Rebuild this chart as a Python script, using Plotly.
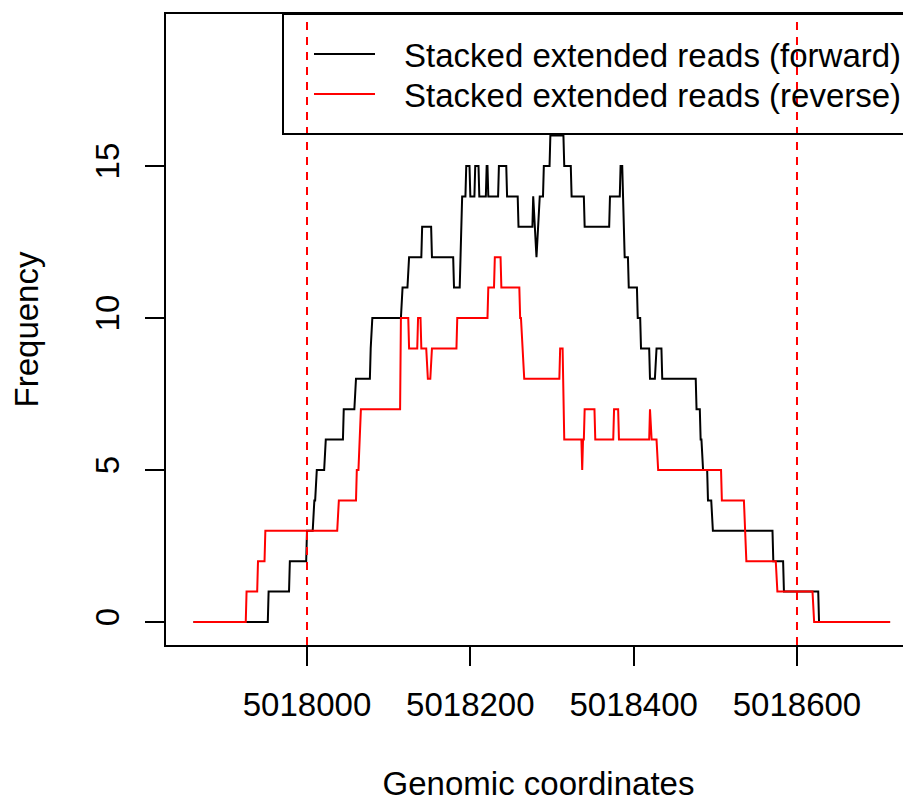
import plotly.graph_objects as go

# ---- data ----
fwd_pos = [5017861, 5017952, 5017953, 5017978, 5017979, 5017999, 5018000, 5018007, 5018009, 5018010,
           5018012, 5018021, 5018023, 5018044, 5018045, 5018058, 5018060, 5018077, 5018078, 5018080,
           5018115, 5018117, 5018123, 5018125, 5018140, 5018141, 5018152, 5018153, 5018179, 5018180,
           5018187, 5018190, 5018194, 5018195, 5018199, 5018200, 5018205, 5018206, 5018210, 5018211,
           5018219, 5018220, 5018221, 5018222, 5018234, 5018235, 5018244, 5018245, 5018258, 5018259,
           5018276, 5018277, 5018281, 5018285, 5018289, 5018290, 5018297, 5018298, 5018314, 5018315,
           5018323, 5018324, 5018339, 5018340, 5018370, 5018371, 5018383, 5018384, 5018386, 5018389,
           5018393, 5018394, 5018404, 5018405, 5018408, 5018409, 5018419, 5018420, 5018426, 5018428,
           5018434, 5018435, 5018476, 5018477, 5018481, 5018482, 5018483, 5018485, 5018490, 5018491,
           5018495, 5018497, 5018570, 5018571, 5018583, 5018584, 5018626, 5018627, 5018714]
fwd_freq = [0, 0, 1, 1, 2, 2, 3, 3, 4, 4,
            5, 5, 6, 6, 7, 7, 8, 8, 9, 10,
            10, 11, 11, 12, 12, 13, 13, 12, 12, 11,
            11, 14, 14, 15, 15, 14, 14, 15, 15, 14,
            14, 15, 15, 14, 14, 15, 15, 14, 14, 13,
            13, 14, 12, 14, 14, 15, 15, 16, 16, 15,
            15, 14, 14, 13, 13, 14, 14, 15, 15, 12,
            12, 11, 11, 10, 10, 9, 9, 8, 8, 9,
            9, 8, 8, 7, 7, 6, 6, 5, 5, 4,
            4, 3, 3, 2, 2, 1, 1, 0, 0]

rev_pos = [5017861, 5017925, 5017926, 5017939, 5017940, 5017948, 5017949, 5018037, 5018039, 5018060,
           5018061, 5018063, 5018066, 5018114, 5018115, 5018124, 5018125, 5018135, 5018136, 5018139,
           5018140, 5018146, 5018148, 5018151, 5018153, 5018183, 5018184, 5018221, 5018222, 5018229,
           5018230, 5018237, 5018238, 5018260, 5018261, 5018262, 5018266, 5018309, 5018310, 5018313,
           5018315, 5018336, 5018337, 5018338, 5018339, 5018340, 5018352, 5018353, 5018375, 5018376,
           5018381, 5018382, 5018419, 5018420, 5018422, 5018428, 5018430, 5018507, 5018508, 5018535,
           5018538, 5018574, 5018576, 5018619, 5018621, 5018714]
rev_freq = [0, 0, 1, 1, 2, 2, 3, 3, 4, 4,
            5, 5, 7, 7, 10, 10, 9, 9, 10, 10,
            9, 9, 8, 8, 9, 9, 10, 10, 11, 11,
            12, 12, 11, 11, 10, 10, 8, 8, 9, 9,
            6, 6, 5, 6, 6, 7, 7, 6, 6, 7,
            7, 6, 6, 7, 6, 6, 5, 5, 4, 4,
            2, 2, 1, 1, 0, 0]

boundaries = [5018000, 5018600]
x_ticks = [5018000, 5018200, 5018400, 5018600]
y_ticks = [0, 5, 10, 15]
series_names = ["Stacked extended reads (forward)", "Stacked extended reads (reverse)"]
series_colors = ["black", "red"]

FONT = "Liberation Sans, Arial, Helvetica, sans-serif"
FS = 33

# page offset of the plot div (browser body margin)
OFF = 8
FW, FH = 911 - OFF, 802 - OFF
L = 166 - OFF
T = 14 - OFF
B = FH - (645 - OFF)
H = FH - T - B
W = FW - L

fig = go.Figure()
fig.add_trace(go.Scatter(x=fwd_pos, y=fwd_freq, mode="lines", name=series_names[0],
                         line=dict(color=series_colors[0], width=2), showlegend=False))
fig.add_trace(go.Scatter(x=rev_pos, y=rev_freq, mode="lines", name=series_names[1],
                         line=dict(color=series_colors[1], width=2), showlegend=False))

for b in boundaries:
    fig.add_shape(type="line", xref="x", yref="paper", x0=b, x1=b, y0=0, y1=1,
                  line=dict(color="red", width=2, dash="8px,7px"), layer="above")


def px_x(p):
    return (p - OFF - L) / W


def px_y(p):
    return (645 - p) / H


# R-style legend (transparent, boxed, anchored top-right)
fig.add_shape(type="rect", xref="paper", yref="paper", x0=px_x(283), x1=px_x(930),
              y0=px_y(134), y1=1, line=dict(color="black", width=2), fillcolor="rgba(0,0,0,0)")
for i, (nm, col) in enumerate(zip(series_names, series_colors)):
    yy = px_y(54 + 40 * i)
    fig.add_shape(type="line", xref="paper", yref="paper", x0=px_x(314), x1=px_x(375),
                  y0=yy, y1=yy, line=dict(color=col, width=2))
    fig.add_annotation(xref="paper", yref="paper", x=px_x(402), y=px_y(55 + 40 * i), text=nm,
                       showarrow=False, xanchor="left", yanchor="middle",
                       font=dict(family=FONT, size=FS, color="black"))

fig.update_layout(
    width=FW, height=FH,
    margin=dict(l=L, r=0, t=T, b=B, autoexpand=False),
    paper_bgcolor="white", plot_bgcolor="white",
    font=dict(family=FONT, size=FS, color="black"),
)
fig.update_xaxes(
    range=[5017827.35, 5018739.6], showgrid=False, zeroline=False,
    showline=True, linecolor="black", linewidth=2, mirror=True,
    ticks="outside", ticklen=19, tickwidth=2, tickcolor="black",
    tickvals=x_ticks, ticktext=[str(v) for v in x_ticks], ticklabelstandoff=10,
    title=dict(text="Genomic coordinates", font=dict(family=FONT, size=FS), standoff=56),
)
fig.update_yaxes(
    range=[-0.757, 20.0], showgrid=False, zeroline=False,
    showline=True, linecolor="black", linewidth=2, mirror=False,
    ticks="outside", ticklen=19, tickwidth=2, tickcolor="black",
    tickvals=y_ticks, ticktext=[str(v) for v in y_ticks], tickangle=-90, ticklabelstandoff=13,
    title=dict(text="Frequency", font=dict(family=FONT, size=FS), standoff=43),
)

fig.write_html("out.html")
